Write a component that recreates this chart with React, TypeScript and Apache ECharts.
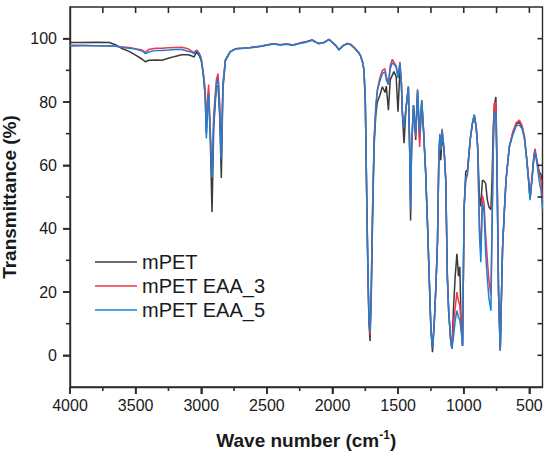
import React, { useEffect, useRef } from "react";
import * as echarts from "echarts";

// Wavenumbers (cm-1), shared by the three spectra
const wavenumbers = [
  4000, 3900, 3800, 3700, 3650, 3600, 3550, 3500, 3450, 3425,
  3400, 3350, 3300, 3250, 3200, 3150, 3100, 3070, 3055, 3035,
  3015, 3000, 2985, 2970, 2961, 2952, 2944, 2932, 2918, 2905,
  2885, 2872, 2860, 2847, 2835, 2816, 2780, 2740, 2680, 2625,
  2550, 2450, 2400, 2350, 2300, 2250, 2200, 2155, 2130, 2105,
  2060, 2027, 2000, 1975, 1951, 1920, 1887, 1862, 1830, 1800,
  1786, 1770, 1760, 1750, 1740, 1730, 1722, 1714, 1705, 1695,
  1683, 1670, 1658, 1640, 1620, 1600, 1590, 1574, 1560, 1544,
  1532, 1515, 1501, 1486, 1475, 1467, 1455, 1440, 1422, 1412,
  1405, 1398, 1383, 1366, 1352, 1336, 1320, 1305, 1290, 1275,
  1264, 1250, 1238, 1225, 1212, 1200, 1190, 1182, 1175, 1165,
  1150, 1137, 1125, 1115, 1100, 1090, 1078, 1065, 1052, 1040,
  1030, 1020, 1009, 997, 985, 972, 951, 935, 920, 905,
  894, 880, 870, 858, 845, 833, 820, 808, 793, 785,
  775, 767, 755, 745, 735, 722, 712, 704, 690, 678,
  653, 627, 600, 576, 555, 538, 520, 505, 495, 480,
  465, 457, 440, 425, 411, 400,
];

const mPET = [
  98.8, 98.8, 98.9, 98.8, 98.0, 96.8, 96.0, 94.8, 93.5, 92.7,
  93.2, 93.3, 93.2, 93.8, 94.4, 94.9, 94.9, 94.5, 94.2, 95.9,
  94.6, 93.0, 89.0, 82.0, 70.0, 79.0, 83.0, 70.0, 45.3, 72.0,
  85.0, 85.0, 76.0, 56.0, 84.0, 93.0, 95.8, 96.8, 97.0, 97.2,
  97.6, 98.4, 98.1, 98.3, 98.0, 98.6, 99.0, 99.6, 99.0, 98.5,
  98.9, 99.8, 98.8, 97.9, 96.5, 97.8, 98.5, 98.2, 97.0, 95.6,
  94.6, 92.5, 90.0, 80.0, 52.0, 25.0, 10.0, 4.5, 18.0, 42.0,
  66.0, 76.0, 80.0, 82.0, 84.8, 83.0, 85.0, 77.4, 87.0, 88.5,
  89.6, 88.0, 76.9, 90.5, 86.0, 76.0, 67.0, 78.0, 84.5, 65.0,
  42.6, 65.0, 79.0, 68.0, 83.0, 68.0, 80.0, 70.0, 57.5, 40.0,
  25.8, 8.0, 1.0, 10.0, 22.0, 36.0, 62.0, 69.0, 61.6, 69.0,
  65.0, 55.3, 25.0, 14.0, 5.0, 2.0, 15.0, 25.0, 32.1, 25.0,
  28.0, 10.0, 3.0, 46.8, 58.0, 58.5, 68.0, 73.0, 75.9, 72.0,
  65.8, 50.0, 47.0, 55.3, 55.0, 54.2, 49.0, 46.8, 46.0, 55.0,
  72.0, 79.0, 81.6, 55.0, 20.0, 1.5, 20.0, 34.2, 46.0, 55.3,
  65.8, 70.0, 73.0, 73.6, 72.0, 69.0, 62.0, 55.0, 49.5, 56.0,
  63.0, 64.3, 61.0, 58.0, 57.0, 54.0,
];

const mPET_EAA3 = [
  97.9, 97.9, 97.8, 97.7, 97.6, 97.4, 97.2, 96.8, 96.4, 95.7,
  96.6, 97.0, 97.0, 97.1, 97.2, 97.3, 96.8, 96.0, 95.6, 96.4,
  95.4, 93.8, 89.5, 84.0, 72.0, 81.0, 85.5, 72.0, 57.0, 76.0,
  87.0, 89.0, 80.0, 63.0, 86.0, 93.3, 95.8, 96.8, 97.0, 97.2,
  97.6, 98.4, 98.1, 98.3, 98.0, 98.6, 99.0, 99.6, 99.0, 98.5,
  98.9, 99.8, 98.8, 97.9, 96.5, 97.8, 98.5, 98.2, 97.0, 95.6,
  94.6, 92.5, 90.0, 80.0, 52.0, 26.0, 11.0, 6.5, 20.0, 45.0,
  68.0, 79.0, 84.0, 87.5, 90.0, 90.5, 88.0, 86.0, 91.5, 93.5,
  92.5, 91.5, 88.0, 92.7, 86.0, 76.0, 73.0, 78.0, 85.0, 65.0,
  47.0, 65.0, 79.0, 69.0, 84.0, 65.8, 80.6, 70.0, 57.5, 40.0,
  25.8, 8.0, 2.5, 10.0, 22.0, 36.0, 62.0, 70.0, 65.0, 71.5,
  65.0, 55.3, 25.0, 14.0, 5.0, 2.0, 10.0, 15.0, 20.0, 17.0,
  16.0, 9.0, 3.0, 46.8, 55.0, 57.0, 68.0, 73.0, 75.9, 72.0,
  65.8, 40.0, 33.0, 50.5, 48.0, 38.0, 30.0, 23.6, 19.0, 40.0,
  68.0, 79.6, 80.0, 55.0, 20.0, 1.5, 20.0, 34.2, 46.0, 55.3,
  65.8, 70.5, 73.5, 74.3, 72.5, 69.0, 62.0, 55.0, 49.5, 56.0,
  63.5, 65.3, 61.0, 57.0, 55.3, 48.0,
];

const mPET_EAA5 = [
  97.7, 97.8, 97.8, 97.7, 97.6, 97.2, 97.0, 96.7, 96.1, 95.3,
  95.8, 96.3, 96.3, 96.4, 96.6, 96.6, 96.0, 95.7, 95.3, 96.2,
  95.2, 93.5, 89.0, 82.0, 68.5, 78.0, 82.5, 70.0, 56.0, 74.0,
  85.5, 87.5, 78.0, 62.0, 85.0, 93.3, 95.8, 96.8, 97.0, 97.1,
  97.5, 98.3, 98.0, 98.2, 97.9, 98.5, 98.9, 99.5, 98.9, 98.4,
  98.8, 99.7, 98.7, 97.8, 96.4, 97.7, 98.4, 98.1, 96.9, 95.5,
  94.5, 92.4, 90.0, 80.0, 52.0, 27.0, 12.0, 7.5, 21.0, 46.0,
  68.0, 78.0, 83.5, 86.5, 89.0, 89.5, 87.0, 85.5, 90.5, 92.4,
  92.0, 91.0, 87.5, 92.2, 85.0, 76.0, 72.0, 78.0, 84.8, 65.0,
  46.0, 65.0, 79.0, 70.0, 83.8, 70.0, 80.6, 70.0, 57.5, 40.0,
  25.8, 8.0, 2.5, 10.0, 22.0, 36.0, 62.0, 69.5, 64.8, 71.1,
  65.0, 55.3, 25.0, 14.0, 5.0, 2.0, 6.0, 11.0, 14.1, 12.0,
  11.0, 8.0, 3.0, 46.8, 56.0, 57.5, 68.0, 73.0, 75.9, 72.0,
  65.8, 38.0, 29.4, 48.4, 45.0, 32.0, 24.0, 18.0, 14.1, 38.0,
  65.0, 76.0, 76.9, 52.0, 20.0, 1.5, 20.0, 34.2, 46.0, 55.3,
  65.8, 69.5, 72.5, 72.7, 71.5, 68.5, 61.5, 54.5, 49.0, 55.5,
  62.5, 64.3, 60.0, 55.0, 52.0, 46.0,
];

const seriesNames = ["mPET", "mPET EAA_3", "mPET EAA_5"];
const seriesColors = ["#3a3a3a", "#f5364a", "#1e80d2"];

// Tick positions
const xMajorTicks = [500, 1000, 1500, 2000, 2500, 3000, 3500, 4000];
const xMinorTicks = [750, 1250, 1750, 2250, 2750, 3250, 3750];
const xTopTicks = [500, 750, 1000, 1250, 1500, 1750, 2000, 2250, 2500, 2750, 3000, 3250, 3500, 3750];
const yMajorTicks = [0, 20, 40, 60, 80, 100];
const yMinorTicks = [10, 30, 50, 70, 90];
const yRightTicks = [0, 10, 20, 30, 40, 50, 60, 70, 80, 90, 100];

const X_MIN = 400;
const X_MAX = 4000;
const Y_MIN = -10;
const Y_MAX = 110;

const W = 550;
const H = 456;
const GRID = { left: 70, right: 7.5, top: 7, bottom: 69 };

const FONT = "'Liberation Sans', Arial, Helvetica, sans-serif";
const AXIS_COLOR = "#2b2b2b";
const TEXT_COLOR = "#1a1a1a";
const TICK_W = 1.6;

export default function App() {
  const ref = useRef<HTMLDivElement>(null);

  useEffect(() => {
    if (!ref.current) return;
    const chart = echarts.init(ref.current, undefined, { renderer: "svg" });

    const spectra = [mPET, mPET_EAA3, mPET_EAA5];
    const plain = (v: number) => String(v);

    // Tick marks as rectangular scatter symbols, placed by the axes' scales
    const tickItems: any[] = [];
    const addTicks = (vals: number[], isX: boolean, fixed: number, len: number, dir: number) => {
      vals.forEach((v) => {
        tickItems.push({
          value: isX ? [v, fixed] : [fixed, v],
          symbolSize: isX ? [TICK_W, len] : [len, TICK_W],
          symbolOffset: isX ? [0, (dir * len) / 2] : [(dir * len) / 2, 0],
        });
      });
    };
    addTicks(xMajorTicks, true, Y_MIN, 7, 1);    // bottom major, outward
    addTicks(xMinorTicks, true, Y_MIN, 4, 1);    // bottom minor, outward
    addTicks(xTopTicks, true, Y_MAX, 6, 1);      // top, inward
    addTicks(yMajorTicks, false, X_MAX, 7, -1);  // left major, outward
    addTicks(yMinorTicks, false, X_MAX, 4, -1);  // left minor, outward
    addTicks(yRightTicks, false, X_MIN, 5, -1);  // right, inward

    const lineSeries = seriesNames.map((name, i) => ({
      name,
      type: "line",
      xAxisIndex: 0,
      yAxisIndex: 0,
      symbol: "none",
      showSymbol: false,
      smooth: false,
      z: 2,
      lineStyle: { color: seriesColors[i], width: 1.5 },
      itemStyle: { color: seriesColors[i] },
      data: wavenumbers.map((w, j) => [w, spectra[i][j]]),
    }));

    const option = {
      animation: false,
      backgroundColor: "#ffffff",
      grid: {
        ...GRID,
        containLabel: false,
        outerBoundsMode: "none",
        show: true,
        borderColor: AXIS_COLOR,
        borderWidth: 1.4,
        backgroundColor: "transparent",
      },
      legend: {
        data: seriesNames,
        orient: "vertical",
        left: 95,
        top: 250,
        padding: 0,
        icon: "rect",
        itemWidth: 42,
        itemHeight: 1.6,
        itemGap: 0,
        textStyle: { fontSize: 20, lineHeight: 24, color: TEXT_COLOR, fontFamily: FONT },
      },
      xAxis: {
        type: "value",
        position: "bottom",
        min: X_MIN,
        max: X_MAX,
        inverse: true,
        axisLine: { show: true, onZero: false, lineStyle: { color: AXIS_COLOR, width: 1.4 } },
        axisTick: { show: true, inside: false, length: 7, customValues: xMajorTicks, lineStyle: { color: AXIS_COLOR, width: TICK_W } },
        axisLabel: { show: true, customValues: xMajorTicks, formatter: plain, margin: 10, fontSize: 16, color: TEXT_COLOR, fontFamily: FONT },
        splitLine: { show: false },
        name: "{a|Wave number (cm}{b|-1}{a|)}",
        nameLocation: "middle",
        nameGap: 42,
        nameTextStyle: {
          fontSize: 19,
          fontWeight: "bold",
          color: TEXT_COLOR,
          fontFamily: FONT,
          rich: {
            a: { fontSize: 19, fontWeight: "bold", color: TEXT_COLOR, fontFamily: FONT },
            b: { fontSize: 12, fontWeight: "bold", color: TEXT_COLOR, fontFamily: FONT, padding: [0, 0, 10, 0] },
          },
        },
      },
      yAxis: {
        type: "value",
        position: "left",
        min: Y_MIN,
        max: Y_MAX,
        axisLine: { show: true, onZero: false, lineStyle: { color: AXIS_COLOR, width: 1.4 } },
        axisTick: { show: true, inside: false, length: 7, customValues: yMajorTicks, lineStyle: { color: AXIS_COLOR, width: TICK_W } },
        axisLabel: { show: true, customValues: yMajorTicks, formatter: plain, margin: 13, fontSize: 16, color: TEXT_COLOR, fontFamily: FONT },
        splitLine: { show: false },
        name: "Transmittance (%)",
        nameLocation: "middle",
        nameGap: 40,
        nameTextStyle: { fontSize: 19, fontWeight: "bold", color: TEXT_COLOR, fontFamily: FONT },
      },
      series: [
        ...lineSeries,
        {
          type: "scatter",
          xAxisIndex: 0,
          yAxisIndex: 0,
          symbol: "rect",
          silent: true,
          clip: false,
          z: 6,
          itemStyle: { color: AXIS_COLOR, opacity: 1 },
          data: tickItems,
        },
      ],
    };

    chart.setOption(option as any);
    return () => chart.dispose();
  }, []);

  return (
    <div
      ref={ref}
      style={{ position: "fixed", left: 0, top: 0, width: W, height: H, background: "#fff" }}
    />
  );
}
